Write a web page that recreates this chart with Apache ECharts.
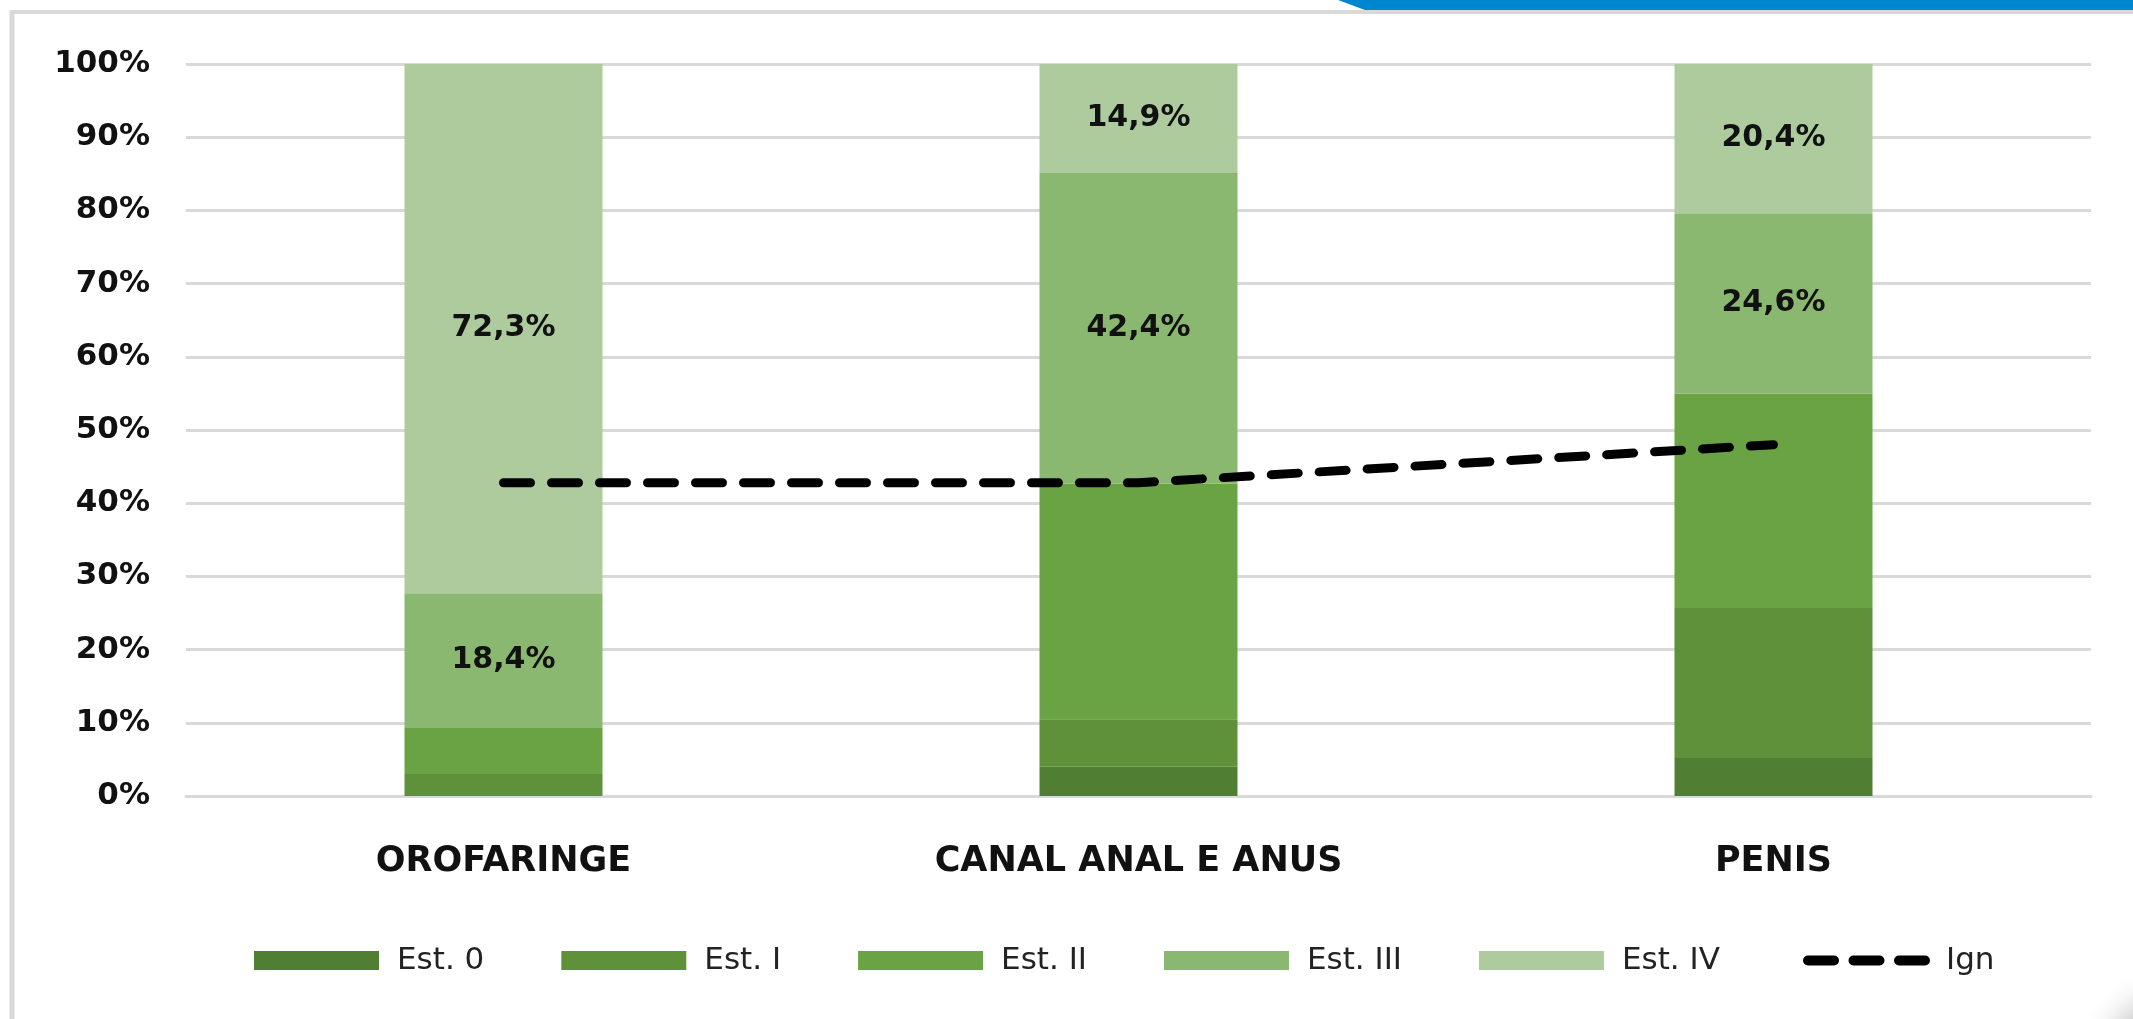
<!DOCTYPE html>
<html>
<head>
<meta charset="utf-8">
<script src="https://cdn.jsdelivr.net/npm/echarts@6/dist/echarts.min.js"></script>
<style>
html,body{margin:0;padding:0;background:#fff;}
#chart{width:2133px;height:1019px;}
</style>
</head>
<body>
<div id="chart"></div>
<script>
const categories = ['OROFARINGE', 'CANAL ANAL E ANUS', 'PENIS'];
const est0 = [0, 4.0, 5.2];
const est1 = [3.0, 6.5, 20.5];
const est2 = [6.3, 32.2, 29.3];
const est3 = [18.4, 42.4, 24.6];
const est4 = [72.3, 14.9, 20.4];
const ign = [42.8, 42.8, 48.0];
const seriesNames = ['Est. 0', 'Est. I', 'Est. II', 'Est. III', 'Est. IV', 'Ign'];
const colors = ['#507e32', '#5e9139', '#6aa343', '#8ab870', '#adcb9d', '#000000'];

const FONT = '"DejaVu Sans"';
const fmt = p => p.value.toFixed(1).replace('.', ',') + '%';

function bar(name, data, color, withLabel) {
  return {
    name: name, type: 'bar', stack: 'total', data: data,
    barWidth: 198,
    itemStyle: { color: color },
    label: withLabel ? {
      show: true, position: 'inside', formatter: fmt,
      fontFamily: FONT, fontWeight: 'bold', fontSize: 30, color: '#111'
    } : { show: false },
    emphasis: { disabled: true }
  };
}

// three rounded dashes in a 127 x 10 box
const dashIcon = 'path://M5,0H31A5,5 0 0 1 31,10H5A5,5 0 0 1 5,0Z' +
  'M50.5,0H76.5A5,5 0 0 1 76.5,10H50.5A5,5 0 0 1 50.5,0Z' +
  'M96,0H122A5,5 0 0 1 122,10H96A5,5 0 0 1 96,0Z';

const legendText = { fontFamily: FONT, fontSize: 31, color: '#222' };

const chart = echarts.init(document.getElementById('chart'));
chart.setOption({
  animation: false,
  backgroundColor: '#ffffff',
  grid: { left: 186, right: 42, top: 64, bottom: 223 },
  xAxis: {
    type: 'category', data: categories,
    axisLine: { show: true, lineStyle: { color: '#d9d9d9', width: 3 } },
    axisTick: { show: false },
    axisLabel: { margin: 48, fontFamily: FONT, fontWeight: 'bold', fontSize: 35, color: '#111' }
  },
  yAxis: {
    type: 'value', min: 0, max: 100, interval: 10,
    axisLine: { show: false }, axisTick: { show: false },
    splitLine: { lineStyle: { color: '#d9d9d9', width: 3 } },
    axisLabel: { margin: 36, formatter: '{value}%', fontFamily: FONT, fontWeight: 'bold', fontSize: 31, color: '#111' }
  },
  legend: [
    {
      left: 249, top: 940, icon: 'rect',
      itemWidth: 125, itemHeight: 19, itemGap: 77,
      data: seriesNames.slice(0, 5),
      textStyle: Object.assign({ width: 100, padding: [0, 0, 0, 13] }, legendText)
    },
    {
      left: 1798, top: 940,
      itemWidth: 127, itemHeight: 10,
      data: [{ name: seriesNames[5], icon: dashIcon, itemStyle: { color: '#000' } }],
      textStyle: Object.assign({ padding: [0, 0, 0, 11] }, legendText)
    }
  ],
  graphic: [
    { type: 'polygon', shape: { points: [[1338, 0], [2133, 0], [2133, 10], [1365, 10]] }, style: { fill: '#0085cf' }, silent: true },
    { type: 'line', shape: { x1: 10, y1: 12, x2: 2133, y2: 12 }, style: { stroke: '#d9d9d9', lineWidth: 4 }, silent: true },
    { type: 'line', shape: { x1: 12, y1: 10, x2: 12, y2: 1019 }, style: { stroke: '#d9d9d9', lineWidth: 5 }, silent: true },
    { type: 'circle', shape: { cx: 2180, cy: 1070, r: 110 },
      style: { fill: { type: 'radial', x: 0.5, y: 0.5, r: 0.5, colorStops: [{ offset: 0.55, color: 'rgba(190,190,190,0.9)' }, { offset: 1, color: 'rgba(255,255,255,0)' }] } }, silent: true },
    { type: 'circle', shape: { cx: 2185, cy: 1075, r: 62 }, style: { fill: '#ffffff' }, silent: true }
  ],
  series: [
    bar(seriesNames[0], est0, colors[0], false),
    bar(seriesNames[1], est1, colors[1], false),
    bar(seriesNames[2], est2, colors[2], false),
    bar(seriesNames[3], est3, colors[3], true),
    bar(seriesNames[4], est4, colors[4], true),
    {
      name: seriesNames[5], type: 'line', data: ign, symbol: 'none', z: 5,
      itemStyle: { color: '#000' },
      lineStyle: { color: '#000', width: 9, type: [27, 21], cap: 'round' },
      emphasis: { disabled: true }
    }
  ]
});
</script>
</body>
</html>
